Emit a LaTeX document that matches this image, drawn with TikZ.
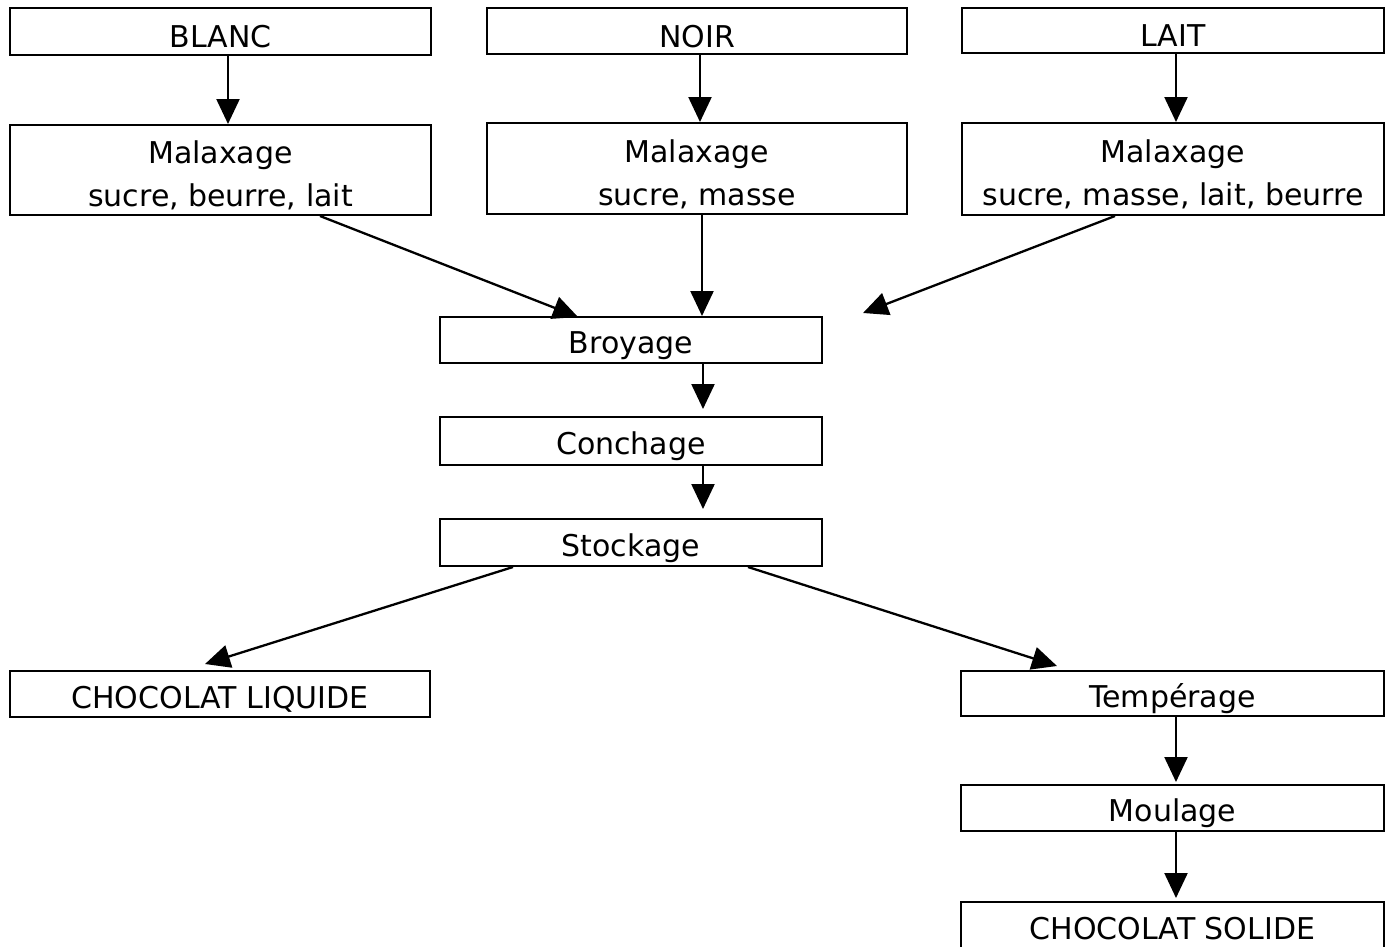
\documentclass[tikz,border=0pt]{standalone}
\usepackage{fontspec}
\setmainfont{DejaVu Sans}
\usetikzlibrary{arrows.meta}
\begin{document}
\begin{tikzpicture}[x=1pt,y=-1pt,
  box/.style={draw=black, line width=2pt, inner sep=0pt},
  txt/.style={inner sep=0pt, align=center, yshift=-5.5pt,
    font=\fontsize{30}{43}\selectfont},
  arr/.style={line width=2.3pt, -{Triangle[length=25pt,width=23pt]}}]
\useasboundingbox (0,0) rectangle (1393,946);
\clip (0,0) rectangle (1393,946);
\fill[white] (0,0) rectangle (1393,946);
% top row
\node[box, minimum width=421pt, minimum height=47pt] (blanc) at (220.5,31.5) {};
\node[box, minimum width=420pt, minimum height=46pt] (noir) at (697,31) {};
\node[box, minimum width=422pt, minimum height=45pt] (lait) at (1173,30.5) {};
% malaxage
\node[box, minimum width=421pt, minimum height=90pt] (m1) at (220.5,170) {};
\node[box, minimum width=420pt, minimum height=91pt] (m2) at (697,168.5) {};
\node[box, minimum width=422pt, minimum height=92pt] (m3) at (1173,169) {};
% middle chain
\node[box, minimum width=382pt, minimum height=46pt] (broy) at (631,340) {};
\node[box, minimum width=382pt, minimum height=48pt] (conch) at (631,441) {};
\node[box, minimum width=382pt, minimum height=47pt] (stock) at (631,542.5) {};
% outputs
\node[box, minimum width=420pt, minimum height=46pt] (liq) at (220,694) {};
\node[box, minimum width=423pt, minimum height=45pt] (temp) at (1172.5,693.5) {};
\node[box, minimum width=423pt, minimum height=46pt] (moul) at (1172.5,808) {};
\node[box, minimum width=423pt, minimum height=48pt] (sol) at (1172.5,926) {};
% texts
\node[txt] (blanc-t) at (blanc.center) {BLANC};
\node[txt] (noir-t) at (noir.center) {NOIR};
\node[txt] (lait-t) at (lait.center) {LAIT};
\node[txt] (m1-t) at (m1.center) {Malaxage\\sucre, beurre, lait};
\node[txt] (m2-t) at (m2.center) {Malaxage\\sucre, masse};
\node[txt] (m3-t) at (m3.center) {Malaxage\\sucre, masse, lait, beurre};
\node[txt] (broy-t) at (broy.center) {Broyage};
\node[txt] (conch-t) at (conch.center) {Conchage};
\node[txt] (stock-t) at (stock.center) {Stockage};
\node[txt] (liq-t) at (liq.center) {CHOCOLAT LIQUIDE};
\node[txt] (temp-t) at (temp.center) {Tempérage};
\node[txt] (moul-t) at (moul.center) {Moulage};
\node[txt, yshift=3pt] (sol-t) at (sol.center) {CHOCOLAT SOLIDE};
% helper coordinates
\coordinate (x228) at (228,0);
\coordinate (x700) at (700,0);
\coordinate (x1176) at (1176,0);
\coordinate (x702) at (702,0);
\coordinate (x703) at (703,0);
\coordinate (s1) at (320,0);
\coordinate (t1) at (578,317);
\coordinate (s3) at (1115,0);
\coordinate (t3) at (863,313);
\coordinate (sl) at (513,0);
\coordinate (tl) at (205,664);
\coordinate (st) at (748,0);
\coordinate (tt) at (1057,666);
\coordinate (c1) at (703,409);
\coordinate (c2) at (703,509);
\coordinate (c3) at (1176,782);
\coordinate (c4) at (1176,898);
\coordinate (c5) at (702,316);
% arrows
\draw[arr] (blanc.south -| x228) -- (m1.north -| x228);
\draw[arr] (noir.south -| x700) -- (m2.north -| x700);
\draw[arr] (lait.south -| x1176) -- (m3.north -| x1176);
\draw[arr] (m1.south -| s1) -- (t1);
\draw[arr] (m2.south -| x702) -- (c5);
\draw[arr] (m3.south -| s3) -- (t3);
\draw[arr] (broy.south -| x703) -- (c1);
\draw[arr] (conch.south -| x703) -- (c2);
\draw[arr] (stock.south -| sl) -- (tl);
\draw[arr] (stock.south -| st) -- (tt);
\draw[arr] (temp.south -| x1176) -- (c3);
\draw[arr] (moul.south -| x1176) -- (c4);
\end{tikzpicture}
\end{document}
